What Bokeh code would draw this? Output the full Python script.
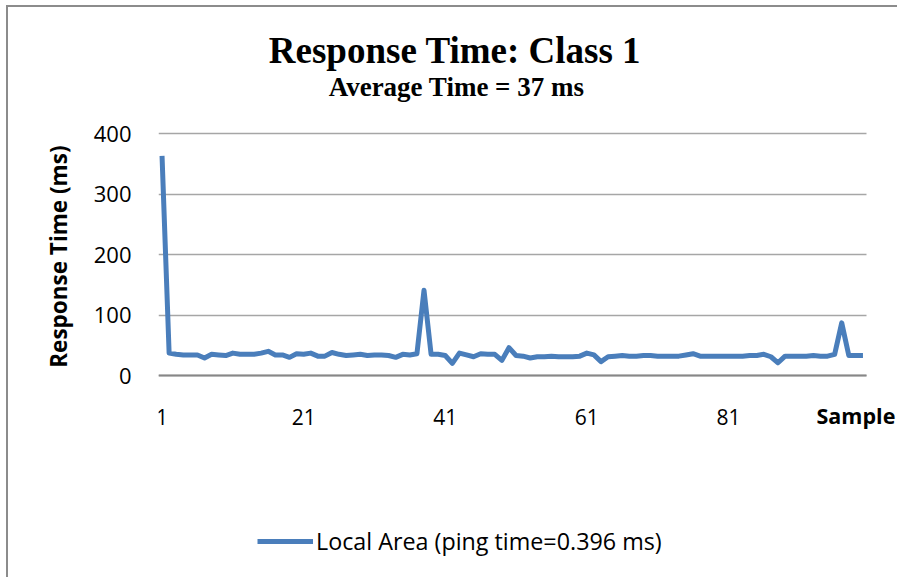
from bokeh.plotting import figure
from bokeh.models import (Label, Legend, LegendItem, FixedTicker, Range1d,
                          ColumnDataSource, Title)
from bokeh.embed import file_html
from bokeh.resources import INLINE

# ---- data ----
samples = list(range(1, 101))
response_ms = [
    363, 37, 35, 34, 34, 34, 29, 35, 34, 33,
    37, 35, 35, 35, 37, 40, 34, 34, 30, 36,
    35, 37, 32, 32, 38, 35, 33, 34, 35, 33,
    34, 34, 33, 30, 35, 34, 36, 141, 35, 35,
    33, 20, 37, 34, 31, 36, 35, 35, 25, 46,
    33, 32, 29, 31, 31, 32, 31, 31, 31, 32,
    37, 34, 23, 31, 32, 33, 32, 32, 33, 33,
    32, 32, 32, 32, 34, 36, 32, 32, 32, 32,
    32, 32, 32, 33, 33, 35, 31, 21, 32, 32,
    32, 32, 33, 32, 32, 35, 87, 33, 33, 33,
]
x_ticks = [1, 21, 41, 61, 81]
y_ticks = [0, 100, 200, 300, 400]
title_text = "Response Time: Class 1"
subtitle_text = "Average Time = 37 ms"
series_name = "Local Area (ping time=0.396 ms)"
x_title = "Sample"
y_title = "Response Time (ms)"

SANS = "Open Sans"
SERIF = "Liberation Serif"
BLUE = "#4a7ebb"

W, H = 891, 572
x_lo, x_hi = 0.5, 100.5          # category band of the samples
p = figure(width=W, height=H, output_backend="svg", toolbar_location=None, title=None,
           x_range=Range1d(x_lo, 105.16), y_range=Range1d(-337.2, 608.3),
           min_border_left=150, min_border_right=0,
           min_border_top=0, min_border_bottom=0)
p.styles = {"margin-left": "6px", "margin-top": "5px",
            "border-left": "2px solid #8c8c8c", "border-top": "2px solid #8c8c8c"}
p.outline_line_color = None
p.background_fill_color = "white"
p.border_fill_color = "white"

p.xgrid.visible = False
g = p.ygrid[0]
g.grid_line_color = "#a6a6a6"
g.grid_line_width = 1.5
g.ticker = FixedTicker(ticks=y_ticks)
try:
    g.cross_bounds = (x_lo, x_hi)
except Exception:
    g.bounds = (0, 400)

src = ColumnDataSource(dict(x=samples, y=response_ms))
r = p.line("x", "y", source=src, line_color=BLUE, line_width=5, line_join="round")

# x axis drawn at y = 0
xa = p.xaxis[0]
xa.fixed_location = 0
xa.bounds = (x_lo, x_hi)
xa.ticker = FixedTicker(ticks=x_ticks)
xa.axis_line_color = "#878787"
xa.axis_line_width = 2
xa.major_tick_line_color = None
xa.minor_tick_line_color = None
xa.major_label_text_font = SANS
xa.major_label_text_font_size = "21px"
xa.major_label_text_color = "black"
xa.major_label_standoff = 27

ya = p.yaxis[0]
ya.ticker = FixedTicker(ticks=y_ticks)
ya.bounds = (0, 400)
ya.axis_line_color = None
ya.major_tick_line_color = None
ya.minor_tick_line_color = None
ya.major_label_text_font = SANS
ya.major_label_text_font_size = "22px"
ya.major_label_text_color = "black"
ya.major_label_standoff = 21

# y axis title (left panel, outside the y axis)
p.add_layout(Title(text=y_title, text_font=SANS, text_font_style="bold",
                   text_font_size="22.5px", text_color="black", align="right",
                   vertical_align="top", offset=138, standoff=30), "left")

# chart titles
p.add_layout(Label(x=42.38, y=537, text=title_text, text_font=SERIF, text_font_style="bold",
                   text_font_size="37px", text_align="center", text_baseline="middle",
                   text_color="black"))
p.add_layout(Label(x=42.6, y=477.7, text=subtitle_text, text_font=SERIF, text_font_style="bold",
                   text_font_size="27px", text_align="center", text_baseline="middle",
                   text_color="black"))

p.add_layout(Label(x=93.44, y=-66, text=x_title, text_font=SANS, text_font_style="bold",
                   text_font_size="21.5px", text_align="left", text_baseline="middle",
                   text_color="black"))

legend = Legend(items=[LegendItem(label=series_name, renderers=[r])],
                location=(99, 22), orientation="horizontal",
                glyph_width=56, glyph_height=20, label_standoff=3,
                padding=0, margin=0, border_line_color=None,
                background_fill_alpha=0,
                label_text_font=SANS, label_text_font_size="23.3px",
                label_text_color="black")
p.add_layout(legend)

open("out.html", "w").write(file_html(p, INLINE))
